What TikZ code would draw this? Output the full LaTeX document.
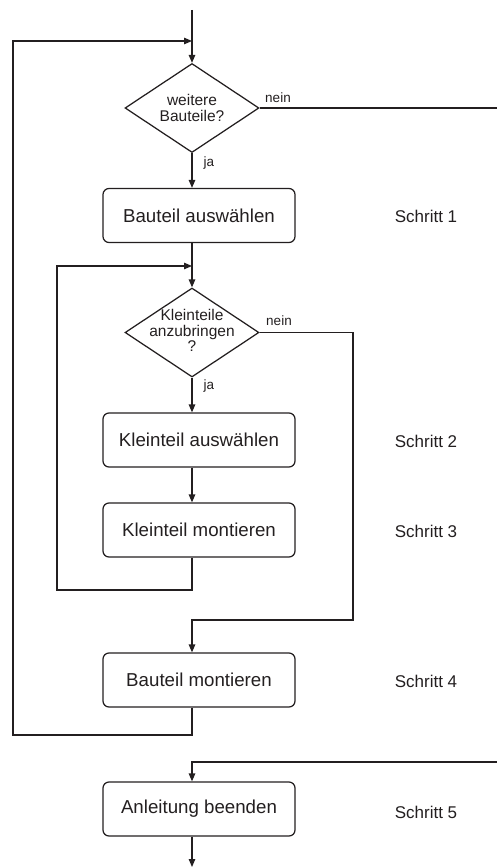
\documentclass[tikz,border=0pt]{standalone}
\usepackage{fontspec}
\setmainfont{Liberation Sans}
\usetikzlibrary{shapes.geometric,arrows.meta}
\definecolor{ink}{RGB}{35,31,32}
\begin{document}
\begin{tikzpicture}[x=1pt,y=-1pt,
  line/.style={draw=ink,line width=1.25pt},
  arr/.style={line,-{Triangle[length=8pt,width=6.5pt]}},
  stepbox/.style={draw=ink,line width=1.25pt,rounded corners=6pt,minimum width=192pt,minimum height=54pt,inner sep=0pt,text=ink,font=\fontsize{18.7}{22}\selectfont},
  decision/.style={diamond,draw=ink,line width=1.25pt,minimum width=134pt,minimum height=89pt,inner sep=0pt},
  question/.style={align=center,inner sep=0pt,text=ink,font=\fontsize{15.5}{15.5}\selectfont},
  steplabel/.style={text=ink,font=\fontsize{17}{20}\selectfont},
  answer/.style={text=ink,font=\fontsize{13.5}{16}\selectfont}]
\useasboundingbox (0,0) rectangle (497,867);

% decisions and process steps
\node[decision] (q1) at (192,108) {};
\node[question] (q1t) at (q1.center) {weitere\\Bauteile?};
\node[stepbox] (s1) at (199,215.5) {Bauteil auswählen};
\node[decision] (q2) at (192,332.5) {};
\node[question] (q2t) at ([yshift=2pt]q2.center) {Kleinteile\\anzubringen\\?};
\node[stepbox] (s2) at (199,440) {Kleinteil auswählen};
\node[stepbox] (s3) at (199,530) {Kleinteil montieren};
\node[stepbox] (s4) at (199,680) {Bauteil montieren};
\node[stepbox] (s5) at (199,809) {Anleitung beenden};

% step labels
\node[steplabel] (l1) at (426,216) {Schritt 1};
\node[steplabel] (l2) at (426,441) {Schritt 2};
\node[steplabel] (l3) at (426,531) {Schritt 3};
\node[steplabel] (l4) at (426,681) {Schritt 4};
\node[steplabel] (l5) at (426,812) {Schritt 5};

% branch labels
\node[answer] (n1) at (278,98) {nein};
\node[answer] (j1) at (209,163) {ja};
\node[answer] (n2) at (279,321) {nein};
\node[answer] (j2) at (209,386) {ja};

% free ends and bends
\coordinate (top) at (192,10);
\coordinate (bottom) at (192,867);
\coordinate (outerL) at (13,735);
\coordinate (outerJoin) at (192,41);
\coordinate (innerL) at (57,590);
\coordinate (innerJoin) at (192,266);
\coordinate (neinR) at (353,620);
\coordinate (exitR) at (497,108);
\coordinate (entryR) at (497,762);

% main flow
\draw[arr] (top) -- (q1.north);
\draw[arr] (q1.south) -- (q1.south |- s1.north);
\draw[arr] (s1.south -| q1.center) -- (q2.north);
\draw[arr] (q2.south) -- (q2.south |- s2.north);
\draw[arr] (s2.south -| q1.center) -- (s3.north -| q1.center);
\draw[arr] (s5.south -| q1.center) -- (bottom);

% inner loop over small parts
\draw[arr] (s3.south -| q1.center) |- (innerL) |- (innerJoin);
\draw[arr] (q2.east) -| (neinR) -| (s4.north -| q1.center);

% outer loop over parts
\draw[arr] (s4.south -| q1.center) |- (outerL) |- (outerJoin);
\draw[line] (q1.east) -- (exitR);
\draw[arr] (entryR) -| (s5.north -| q1.center);
\end{tikzpicture}
\end{document}
